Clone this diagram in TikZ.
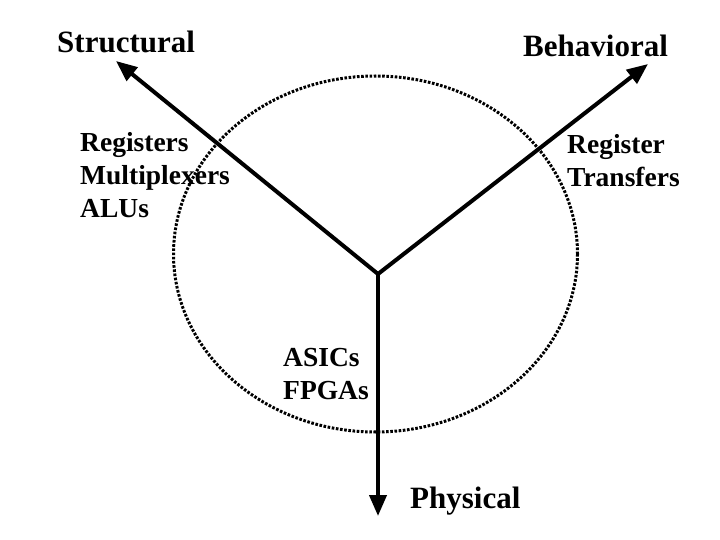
\documentclass[tikz,border=0pt]{standalone}
\usepackage{fontspec}
\setmainfont{Liberation Serif}
\usetikzlibrary{arrows.meta}
\begin{document}
\begin{tikzpicture}[x=1pt, y=-1pt, every node/.style={inner sep=0pt, align=left, anchor=base west, font=\bfseries\fontsize{27.5}{33}\selectfont}, axis/.style={line width=4pt, -{Triangle[length=21pt, width=17pt]}}, title/.style={font=\bfseries\fontsize{31}{36}\selectfont}]
    \useasboundingbox (0,0) rectangle (720,540);
    % Ellipse
    \draw[line width=3pt, dash pattern=on 2.6pt off 1.6pt] (375.5,254) ellipse [x radius=202, y radius=178];

    % Nodes
    \coordinate (center) at (378,274);
    \coordinate (structip) at (116,61);
    \coordinate (behavtip) at (648,64);
    \coordinate (phystip) at (378,516);
    \node (structural) [title] at (57,53) {Structural};
    \node (behavioral) [title] at (523,57) {Behavioral};
    \node (physical) [title] at (410,508) {Physical};
    \node (registers) at (80,218) {Registers\\Multiplexers\\ALUs};
    \node (transfers) at (567,187) {Register\\Transfers};
    \node (asics) at (283,399) {ASICs\\FPGAs};

    % Arrows
    \draw[axis] (center) -- (structip);
    \draw[axis] (center) -- (behavtip);
    \draw[axis, shorten <=-1.5pt] (center) -- (phystip);
\end{tikzpicture}
\end{document}
